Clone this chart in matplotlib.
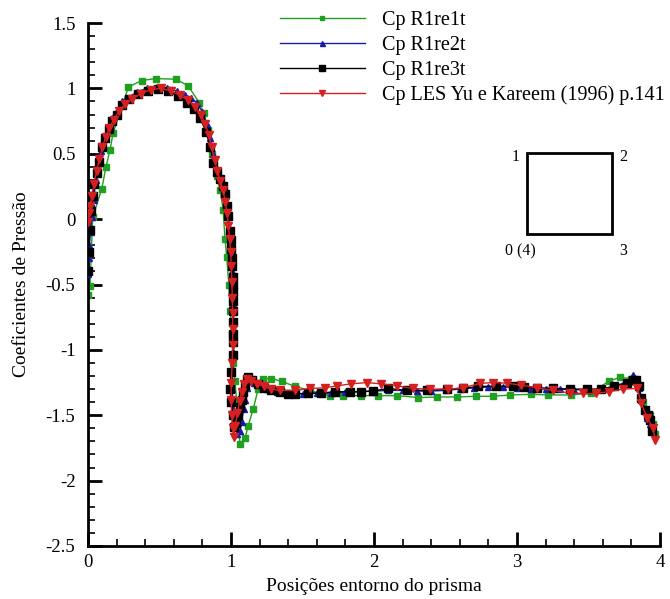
import matplotlib
matplotlib.use("Agg")
import matplotlib.pyplot as plt
from matplotlib.patches import Rectangle
from matplotlib.ticker import MultipleLocator, FixedLocator, FixedFormatter

plt.rcParams["font.family"] = ["Liberation Serif", "DejaVu Serif"]

# Pressure coefficient around the square prism
x_r1re1t = [0.0, 0.014, 0.033, 0.096, 0.126, 0.154, 0.176, 0.282, 0.375, 0.473, 0.615, 0.70,
            0.778, 0.811, 0.84, 0.87, 0.90, 0.925, 0.945, 0.958, 0.97, 0.985, 0.995, 1.005,
            1.016, 1.028, 1.04, 1.05, 1.063, 1.098, 1.12, 1.156, 1.19, 1.226, 1.28, 1.354,
            1.448, 1.55, 1.69, 1.785, 1.91, 2.03, 2.16, 2.31, 2.44, 2.58, 2.71, 2.83, 2.95,
            3.10, 3.22, 3.38, 3.52, 3.64, 3.72, 3.80, 3.85, 3.88, 3.93, 3.95, 3.965]
cp_r1re1t = [-0.58, -0.51, 0.015, 0.23, 0.40, 0.53, 0.66, 1.01, 1.06, 1.075, 1.07, 1.02,
             0.89, 0.81, 0.68, 0.50, 0.33, 0.22, 0.07, -0.15, -0.29, -0.50, -0.70, -0.88,
             -1.10, -1.24, -1.40, -1.55, -1.72, -1.676, -1.58, -1.45, -1.30, -1.22, -1.22, -1.24,
             -1.28, -1.31, -1.35, -1.35, -1.35, -1.35, -1.35, -1.365, -1.36, -1.36, -1.355, -1.355, -1.345,
             -1.34, -1.345, -1.345, -1.33, -1.24, -1.21, -1.22, -1.28, -1.40, -1.50, -1.57, -1.64]

x_r1re2t = [0.0, 0.004, 0.01, 0.018, 0.028, 0.04, 0.055, 0.07, 0.09, 0.115, 0.14, 0.17, 0.2,
            0.235, 0.28, 0.34, 0.41, 0.48, 0.55, 0.62, 0.68, 0.72, 0.76, 0.80, 0.83, 0.855,
            0.875, 0.895, 0.915, 0.935, 0.955, 0.968, 0.978, 0.988, 0.996, 1.003, 1.008, 1.012,
            1.015, 1.017, 1.018, 1.016, 1.01, 1.008, 1.015, 1.03, 1.045, 1.063, 1.075, 1.088,
            1.1, 1.115, 1.13, 1.16, 1.2, 1.25, 1.32, 1.40, 1.5, 1.6, 1.7, 1.8, 1.9, 2.0, 2.1,
            2.2, 2.3, 2.4, 2.5, 2.6, 2.7, 2.8, 2.9, 3.0, 3.1, 3.2, 3.3, 3.4, 3.5, 3.6, 3.68,
            3.75, 3.79, 3.81, 3.83, 3.85, 3.87, 3.89, 3.91, 3.93, 3.95]
cp_r1re2t = [-0.42, -0.30, -0.20, -0.10, 0.02, 0.15, 0.30, 0.40, 0.52, 0.62, 0.70, 0.77, 0.83,
             0.90, 0.93, 0.97, 1.0, 1.01, 1.0, 0.98, 0.95, 0.93, 0.89, 0.82, 0.73, 0.62,
             0.50, 0.40, 0.33, 0.27, 0.18, 0.10, 0.02, -0.08, -0.18, -0.28, -0.40, -0.52,
             -0.65, -0.78, -0.90, -1.02, -1.15, -1.30, -1.45, -1.58, -1.64, -1.62, -1.55, -1.45,
             -1.38, -1.29, -1.24, -1.25, -1.27, -1.30, -1.32, -1.33, -1.335, -1.33, -1.33, -1.325, -1.32, -1.315, -1.31,
             -1.31, -1.315, -1.315, -1.31, -1.30, -1.29, -1.285, -1.285, -1.29, -1.30, -1.30, -1.30, -1.305, -1.305, -1.30, -1.28,
             -1.25, -1.22, -1.19, -1.22, -1.29, -1.38, -1.45, -1.52, -1.57, -1.62]

x_r1re3t = [0.0, 0.005, 0.012, 0.02, 0.033, 0.045, 0.06, 0.075, 0.096, 0.12, 0.145, 0.17, 0.2,
            0.24, 0.29, 0.35, 0.42, 0.49, 0.56, 0.63, 0.69, 0.74, 0.785, 0.825, 0.855, 0.876,
            0.90, 0.923, 0.945, 0.96, 0.972, 0.98, 0.99, 0.997, 1.003, 1.007, 1.01, 1.012,
            1.013, 1.013, 1.014, 1.014, 1.015, 1.016, 1.016, 1.012, 1.0, 0.993, 1.002, 1.012,
            1.02, 1.035, 1.05, 1.063, 1.075, 1.087, 1.098, 1.11, 1.12, 1.15, 1.19, 1.23, 1.28,
            1.34, 1.40, 1.45, 1.54, 1.63, 1.73, 1.83, 1.91, 1.99, 2.10, 2.23, 2.37, 2.51, 2.62,
            2.73, 2.85, 2.97, 3.05, 3.14, 3.25, 3.37, 3.49, 3.59, 3.68, 3.77, 3.81, 3.83, 3.85,
            3.87, 3.895, 3.915, 3.93, 3.945]
cp_r1re3t = [-0.40, -0.25, -0.08, 0.06, 0.18, 0.27, 0.355, 0.44, 0.55, 0.62, 0.69, 0.75, 0.80,
             0.87, 0.92, 0.955, 0.98, 0.995, 0.98, 0.94, 0.89, 0.84, 0.77, 0.67, 0.55, 0.43,
             0.36, 0.31, 0.25, 0.19, 0.10, 0.025, -0.09, -0.16, -0.23, -0.30, -0.36, -0.44,
             -0.50, -0.56, -0.63, -0.70, -0.79, -0.88, -0.94, -1.04, -1.17, -1.30, -1.40, -1.50,
             -1.59, -1.56, -1.50, -1.44, -1.38, -1.32, -1.27, -1.22, -1.21, -1.23, -1.26, -1.29, -1.31,
             -1.32, -1.335, -1.338, -1.333, -1.33, -1.32, -1.32, -1.32, -1.315, -1.295, -1.31, -1.31, -1.30, -1.295,
             -1.28, -1.277, -1.28, -1.285, -1.29, -1.295, -1.30, -1.30, -1.30, -1.277, -1.257, -1.23, -1.23, -1.28,
             -1.37, -1.46, -1.50, -1.536, -1.62]

x_les = [0.0, 0.008, 0.015, 0.026, 0.042, 0.06, 0.08, 0.1, 0.125, 0.15, 0.18, 0.22, 0.26,
         0.31, 0.37, 0.44, 0.51, 0.58, 0.64, 0.70, 0.75, 0.79, 0.82, 0.845, 0.865, 0.885,
         0.905, 0.925, 0.945, 0.96, 0.972, 0.982, 0.99, 0.997, 1.002, 1.006, 1.009, 1.011,
         1.012, 1.012, 1.008, 1.002, 1.0, 1.005, 1.012, 1.018, 1.03, 1.045, 1.06, 1.075,
         1.09, 1.11, 1.14, 1.18, 1.23, 1.28, 1.34, 1.45, 1.55, 1.66, 1.74, 1.84, 1.95, 2.05,
         2.16, 2.27, 2.39, 2.52, 2.62, 2.74, 2.83, 2.93, 3.03, 3.14, 3.25, 3.37, 3.46, 3.55,
         3.64, 3.74, 3.84, 3.87, 3.91, 3.953, 3.965]
cp_les = [-0.02, 0.05, 0.10, 0.18, 0.27, 0.37, 0.46, 0.55, 0.63, 0.70, 0.76, 0.83, 0.88,
          0.92, 0.96, 0.99, 1.0, 0.98, 0.95, 0.91, 0.86, 0.80, 0.73, 0.64, 0.55, 0.45,
          0.37, 0.29, 0.22, 0.13, 0.05, -0.05, -0.15, -0.25, -0.36, -0.48, -0.60, -0.72,
          -0.84, -0.96, -1.10, -1.25, -1.38, -1.50, -1.60, -1.67, -1.58, -1.48, -1.39, -1.32,
          -1.26, -1.22, -1.24, -1.26, -1.28, -1.30, -1.31, -1.31, -1.295, -1.29, -1.275, -1.26, -1.25, -1.26,
          -1.275, -1.295, -1.30, -1.30, -1.29, -1.257, -1.25, -1.255, -1.27, -1.29, -1.31, -1.33, -1.333, -1.333,
          -1.32, -1.30, -1.295, -1.41, -1.52, -1.60, -1.69]

series_labels = ["Cp R1re1t", "Cp R1re2t", "Cp R1re3t", "Cp LES Yu e Kareem (1996) p.141"]

x_ticks = [0, 1, 2, 3, 4]
x_tick_labels = ["0", "1", "2", "3", "4"]
y_ticks = [-2.5, -2, -1.5, -1, -0.5, 0, 0.5, 1, 1.5]
y_tick_labels = ["-2.5", "-2", "-1.5", "-1", "-0.5", "0", "0.5", "1", "1.5"]

W, H = 670, 599
fig = plt.figure(figsize=(W / 100, H / 100), dpi=100)
ax = fig.add_axes([88 / W, 53 / H, 572 / W, 523 / H])

ax.plot(x_r1re1t, cp_r1re1t, color="#20a020", lw=1.0, marker="s", ms=3.8,
        label=series_labels[0], zorder=2)
ax.plot(x_r1re2t, cp_r1re2t, color="#1a1aa8", lw=1.0, marker="^", ms=4.5,
        label=series_labels[1], zorder=3)
ax.plot(x_r1re3t, cp_r1re3t, color="black", lw=1.0, marker="s", ms=6.0,
        label=series_labels[2], zorder=4)
ax.plot(x_les, cp_les, color="#d42020", lw=1.0, marker="v", ms=5.5,
        label=series_labels[3], zorder=5)

ax.set_xlim(0, 4)
ax.set_ylim(-2.5, 1.5)
ax.xaxis.set_major_locator(FixedLocator(x_ticks))
ax.xaxis.set_major_formatter(FixedFormatter(x_tick_labels))
ax.yaxis.set_major_locator(FixedLocator(y_ticks))
ax.yaxis.set_major_formatter(FixedFormatter(y_tick_labels))
ax.xaxis.set_minor_locator(MultipleLocator(0.2))
ax.yaxis.set_minor_locator(MultipleLocator(0.1))

for side in ("top", "right"):
    ax.spines[side].set_visible(False)
for side in ("left", "bottom"):
    ax.spines[side].set_linewidth(2.0)

ax.tick_params(which="major", direction="in", length=10, width=2.0, labelsize=13.5)
ax.tick_params(which="minor", direction="in", length=5, width=1.2)
ax.tick_params(axis="y", which="major", pad=9)
ax.tick_params(axis="x", which="major", pad=6)

ax.set_xlabel("Posições entorno do prisma", fontsize=14, labelpad=5)
ax.set_ylabel("Coeficientes de Pressão", fontsize=14, labelpad=11)

leg = ax.legend(loc="upper left", bbox_to_anchor=(280 / W, 1 - 11 / H),
                bbox_transform=fig.transFigure, frameon=False, fontsize=14.5,
                handlelength=4.2, handletextpad=0.85, borderpad=0, borderaxespad=0,
                labelspacing=0.28, numpoints=1)
for h in leg.legend_handles:
    h.set_markersize(h.get_markersize() * 0.8)

# Reference sketch of the prism with corner numbering
fig.add_artist(Rectangle((527 / W, 1 - 234 / H), 85 / W, 81 / H, transform=fig.transFigure,
                         fill=False, lw=2.0, edgecolor="black"))
fig.text(516 / W, 1 - 157 / H, "1", ha="center", va="center", fontsize=11.5)
fig.text(623 / W, 1 - 157 / H, "2", ha="center", va="center", fontsize=11.5)
fig.text(520 / W, 1 - 251 / H, "0 (4)", ha="center", va="center", fontsize=11.5)
fig.text(623 / W, 1 - 251 / H, "3", ha="center", va="center", fontsize=11.5)

fig.savefig("out.png", dpi=100)
